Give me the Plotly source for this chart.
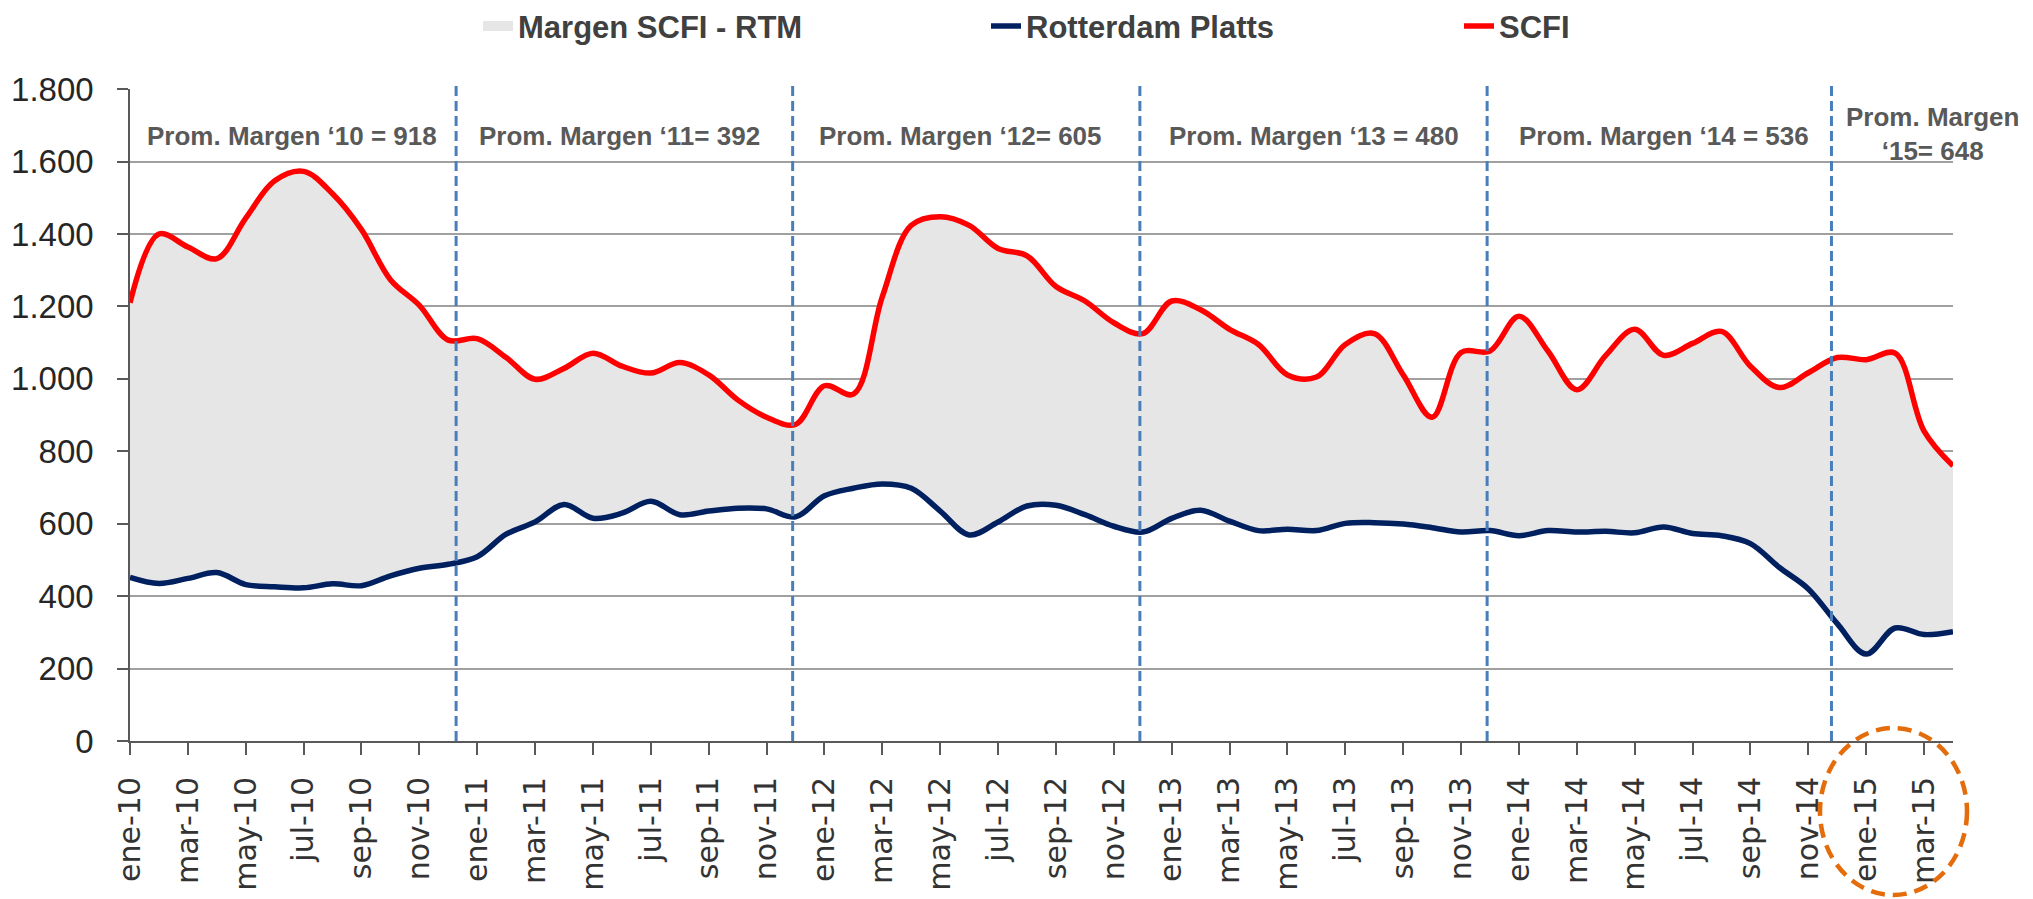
import plotly.graph_objects as go

# ---------------- data ----------------
month_abbr = ["ene", "feb", "mar", "abr", "may", "jun", "jul", "ago", "sep", "oct", "nov", "dic"]
years = ["10", "11", "12", "13", "14", "15"]
month_labels = [f"{m}-{y}" for y in years for m in month_abbr][:64]   # ene-10 .. abr-15

scfi = [
    1210, 1400, 1364, 1332, 1444, 1547, 1573, 1511, 1412, 1274, 1203, 1107,   # 2010
    1111, 1059, 999, 1029, 1071, 1035, 1016, 1045, 1011, 942, 894, 874,       # 2011
    981, 958, 1227, 1424, 1448, 1424, 1360, 1340, 1255, 1215, 1155, 1125,     # 2012
    1215, 1191, 1137, 1095, 1011, 1005, 1095, 1125, 1011, 894, 1073, 1077,    # 2013
    1173, 1077, 970, 1065, 1137, 1065, 1098, 1131, 1035, 976, 1017, 1059,     # 2014
    1053, 1071, 856, 760,                                                      # 2015
]
rotterdam = [
    452, 435, 449, 465, 432, 426, 423, 434, 429, 456, 477, 488,
    509, 571, 605, 653, 615, 629, 662, 625, 635, 643, 641, 619,
    677, 698, 710, 698, 635, 569, 605, 649, 651, 625, 593, 577,
    615, 637, 607, 581, 585, 581, 601, 603, 599, 589, 577, 581,
    567, 581, 577, 579, 575, 591, 573, 567, 545, 479, 420, 324,
    240, 312, 294, 302,
]

divider_x = [11.27, 22.9, 34.9, 46.9, 58.8]
ann_x = [5.6, 16.9, 28.7, 40.9, 53.0, 62.3]
ann_y = [1672, 1672, 1672, 1672, 1672, 1676]
ann_text = [
    "Prom. Margen \u201810 = 918",
    "Prom. Margen \u201811= 392",
    "Prom. Margen \u201812= 605",
    "Prom. Margen \u201813 = 480",
    "Prom. Margen \u201814 = 536",
    "Prom. Margen<br>\u201815= 648",
]

x = list(range(len(scfi)))
tickvals = x[::2]
ticktext = month_labels[::2]

# ---------------- figure ----------------
# page body has an 8px margin, so the figure is 16px smaller and margins shifted by 8px
W, H = 2025, 891
L, R, T, B = 122, 80, 81, 158
pw, ph = W - L - R, H - T - B   # 1823 x 652

def px2paper_x(px):          # px in screenshot coordinates
    return (px - 130) / pw

def px2paper_y(py):
    return (741 - py) / ph

fig = go.Figure()
fig.add_trace(go.Scatter(x=x, y=rotterdam, mode="lines", line=dict(width=0, shape="spline"),
                         showlegend=False, hoverinfo="skip"))
fig.add_trace(go.Scatter(x=x, y=scfi, mode="lines", fill="tonexty", fillcolor="#E6E6E6",
                         line=dict(width=0, shape="spline", color="#E6E6E6"),
                         name="Margen SCFI - RTM", showlegend=False))
# legend-only entry for the margin area (wide grey swatch)
fig.add_trace(go.Scatter(x=[None], y=[None], mode="lines",
                         line=dict(width=20, color="#E6E6E6"),
                         name="Margen SCFI - RTM", legend="legend"))
fig.add_trace(go.Scatter(x=x, y=rotterdam, mode="lines",
                         line=dict(width=5.5, shape="spline", color="#002060"),
                         name="Rotterdam Platts", legend="legend2"))
fig.add_trace(go.Scatter(x=x, y=scfi, mode="lines",
                         line=dict(width=5.5, shape="spline", color="#FF0000"),
                         name="SCFI", legend="legend3"))

shapes = []
for dx in divider_x:
    shapes.append(dict(type="line", xref="x", yref="paper", x0=dx, x1=dx, y0=0, y1=1.006,
                       line=dict(color="#4A7EBB", width=3, dash="10px,5px")))

shapes.append(dict(type="circle", xref="paper", yref="paper",
                   x0=px2paper_x(1820), x1=px2paper_x(1967),
                   y0=px2paper_y(895), y1=px2paper_y(728),
                   line=dict(color="#E46C0A", width=4.5, dash="14px,8px")))

annotations = []
for ax_, ay_, t in zip(ann_x, ann_y, ann_text):
    annotations.append(dict(x=ax_, y=ay_, xref="x", yref="y", text=t, showarrow=False,
                            xanchor="center", yanchor="middle",
                            font=dict(family="Liberation Sans, Arial, sans-serif", size=26,
                                      color="#595959", weight="bold")))

legend_font = dict(family="Liberation Sans, Arial, sans-serif", size=31,
                   color="#404040", weight="bold")

def legend_at(px):
    return dict(orientation="h", x=px2paper_x(px), xanchor="left", y=1.096, yanchor="middle",
                font=legend_font, bgcolor="rgba(0,0,0,0)")

fig.update_layout(
    width=W, height=H, autosize=False,
    margin=dict(l=L, r=R, t=T, b=B, pad=0, autoexpand=False),
    paper_bgcolor="white", plot_bgcolor="white",
    separators=",.",
    showlegend=True,
    legend=legend_at(478),
    legend2=legend_at(986),
    legend3=legend_at(1459),
    shapes=shapes,
    annotations=annotations,
    xaxis=dict(range=[0, 63], tickmode="array", tickvals=tickvals, ticktext=ticktext,
               tickangle=-90, showgrid=False, zeroline=False, showline=True,
               linecolor="#595959", linewidth=2, ticks="outside", ticklen=12,
               tickcolor="#595959", tickwidth=1.5, ticklabelstandoff=10,
               tickfont=dict(family="DejaVu Sans, Verdana, sans-serif", size=30, color="#333333"),
               automargin=False, fixedrange=True),
    yaxis=dict(range=[0, 1800.5], tick0=0, dtick=200, tickformat=",d",
               showgrid=True, gridcolor="#A0A0A0", gridwidth=1.5, zeroline=False,
               showline=True, linecolor="#595959", linewidth=1.5,
               ticks="outside", ticklen=11, tickcolor="#595959", tickwidth=1.5,
               ticklabelstandoff=17,
               tickfont=dict(family="Liberation Sans, Arial, sans-serif", size=33, color="#262626"),
               automargin=False, fixedrange=True),
)

fig.write_html("out.html")
